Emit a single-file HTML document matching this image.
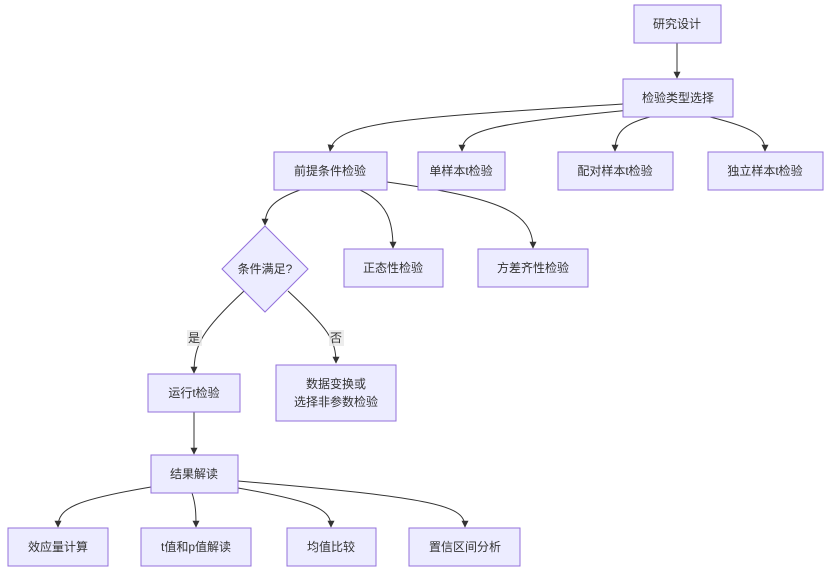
<!DOCTYPE html>
<html><head><meta charset="utf-8"><style>
html,body{margin:0;padding:0;background:#fff;}
svg text{font-family:"Liberation Sans","Noto Sans CJK SC",sans-serif;font-size:12px;fill:#333;}
</style></head><body>
<svg width="831" height="573" viewBox="0 0 831 573" xmlns="http://www.w3.org/2000/svg">
<defs><marker id="a" viewBox="0 0 10 10" refX="9" refY="5" markerWidth="7" markerHeight="7" orient="auto"><path d="M0,0L10,5L0,10z" fill="#333"/></marker></defs>
<g fill="none" stroke="#333" stroke-width="1" marker-end="url(#a)">
<path d="M677,43L677,78"/>
<path d="M623,104C400,118 335,122 330,151"/>
<path d="M630,110C490,124 462,130 462,151"/>
<path d="M650,117C622,124 615,134 615,151"/>
<path d="M710,117C755,128 765,136 765,151"/>
<path d="M300,190C272,200 265,210 265,225"/>
<path d="M360,190C388,203 393,222 393,248"/>
<path d="M387,182C500,198 533,212 533,248"/>
<path d="M244,291C202,330 194,345 194,373"/>
<path d="M288,291C328,328 336,340 336,363"/>
<path d="M194,412L194,454"/>
<path d="M151,487C75,500 58,508 58,527"/>
<path d="M192,493C196,505 196,515 196,527"/>
<path d="M238,488C318,502 331,510 331,527"/>
<path d="M238,481C440,498 465,506 465,527"/>
</g>
<g fill="#ECECFF" stroke="#9370DB" stroke-width="1">
<rect x="634" y="5" width="87" height="38"/>
<rect x="623" y="79" width="110" height="38"/>
<rect x="274" y="152" width="113" height="38"/>
<rect x="418" y="152" width="87" height="38"/>
<rect x="558" y="152" width="115" height="38"/>
<rect x="708" y="152" width="115" height="38"/>
<polygon points="265,226 308,269 265,312 222,269"/>
<rect x="344" y="249" width="99" height="38"/>
<rect x="478" y="249" width="110" height="38"/>
<rect x="148" y="374" width="92" height="38"/>
<rect x="276" y="365" width="120" height="56"/>
<rect x="151" y="455" width="87" height="38"/>
<rect x="8" y="528" width="100" height="38"/>
<rect x="141" y="528" width="110" height="38"/>
<rect x="287" y="528" width="89" height="38"/>
<rect x="409" y="528" width="111" height="38"/>
</g>
<rect x="187" y="330" width="15" height="16" fill="#e8e8e8" opacity="0.8"/>
<rect x="329" y="330" width="15" height="16" fill="#e8e8e8" opacity="0.8"/>
<g text-anchor="middle" dominant-baseline="central">
<text x="677" y="24">研究设计</text>
<text x="678" y="98">检验类型选择</text>
<text x="330" y="171">前提条件检验</text>
<text x="461" y="171">单样本t检验</text>
<text x="615" y="171">配对样本t检验</text>
<text x="765" y="171">独立样本t检验</text>
<text x="265" y="269">条件满足?</text>
<text x="393" y="268">正态性检验</text>
<text x="533" y="268">方差齐性检验</text>
<text x="194" y="338">是</text>
<text x="336" y="338">否</text>
<text x="194" y="393">运行t检验</text>
<text x="336" y="384">数据变换或</text>
<text x="336" y="402">选择非参数检验</text>
<text x="194" y="474">结果解读</text>
<text x="58" y="547">效应量计算</text>
<text x="196" y="547">t值和p值解读</text>
<text x="331" y="547">均值比较</text>
<text x="465" y="547">置信区间分析</text>
</g>
</svg>
</body></html>
